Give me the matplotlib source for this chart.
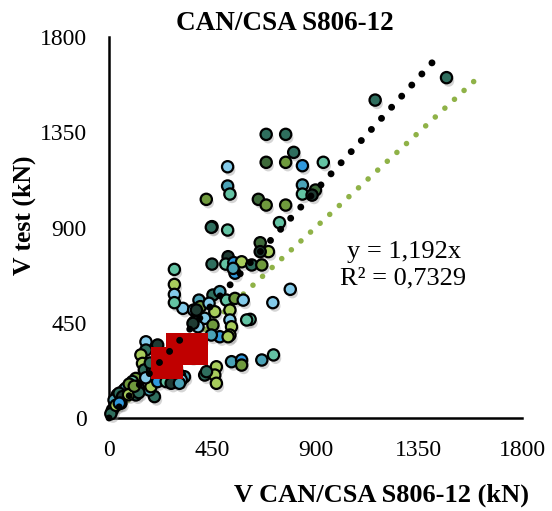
import matplotlib
matplotlib.use("Agg")
import matplotlib.pyplot as plt
import matplotlib.patheffects as pe
import numpy as np

# ---- data ----
palette = {
    "dt": "#2f6e5e",  # dark teal
    "dg": "#3e6a3a",  # dark green
    "ol": "#6f9a3d",  # olive
    "lo": "#a8cd5c",  # light olive
    "lt": "#63c3a3",  # light teal
    "lb": "#84cbea",  # light blue
    "bl": "#2f98dc",  # blue
    "tb": "#4aa2b6",  # teal blue
    "dk": "#1f3b33",  # very dark
}

v_can = [1471, 1160, 685, 770, 805, 685, 770, 843, 934, 517, 517, 527, 843, 843, 900, 885,
         424, 651, 685, 770, 743, 449, 517,
         446, 659, 695, 659, 449, 519, 509, 544, 578, 622, 666, 549, 541, 790, 714, 615,
         453, 483, 392, 322, 369, 398, 436, 512, 549, 585, 527, 461, 527, 534, 417, 453,
         373, 388, 527, 483, 446, 285, 285, 285, 285, 381, 366, 600, 519,
         161, 161, 212, 139, 146, 154, 117, 102, 95, 66, 36, 22, 15, 198, 176, 293, 329,
         307, 417, 468, 461, 468, 425, 534, 578, 578, 666, 717, 293, 315, 244, 73, 44, 59,
         117, 183, 212, 249, 271, 307, 8, 30, 52, 88, 125, 190, 230, 400, 360,
         45, 85, 130, 160, 200, 240, 180, 110]
v_test = [1608, 1502, 1340, 1340, 1255, 1208, 1208, 1192, 1208, 1187, 1096, 1058, 1101, 1058, 1077, 1053,
          1033, 1033, 1006, 1006, 923, 904, 888,
          901, 828, 786, 786, 727, 762, 727, 734, 738, 723, 723, 684, 707, 608, 545, 466,
          581, 597, 557, 518, 510, 526, 542, 557, 565, 557, 510, 502, 463, 431, 471, 439,
          455, 431, 392, 384, 392, 702, 631, 584, 545, 510, 447, 463, 384,
          360, 321, 345, 298, 258, 227, 187, 172, 140, 132, 109, 85, 38, 101, 132, 172, 195,
          203, 203, 242, 203, 164, 219, 266, 274, 250, 274, 298, 250, 180, 210, 140, 117, 101,
          109, 148, 172, 172, 164, 164, 20, 60, 70, 160, 150, 230, 300, 370, 290,
          70, 110, 120, 190, 230, 290, 260, 150]
classes = ["dt", "dt", "dt", "dt", "dt", "dg", "ol", "bl", "lt", "lb", "tb", "lt", "tb", "lt", "dg", "dk",
           "ol", "dg", "ol", "ol", "lt", "dt", "lt",
           "dt", "dg", "lo", "dk", "dt", "dk", "lt", "bl", "lo", "dt", "ol", "bl", "tb", "lb", "lb", "lt",
           "dt", "tb", "tb", "lb", "lb", "ol", "lb", "lt", "ol", "lb", "lo", "lo", "lb", "lo", "lb", "ol",
           "dt", "lb", "lo", "bl", "tb", "lt", "lo", "lb", "lt", "dk", "dk", "lt", "lo",
           "lb", "dt", "dk", "lo", "lo", "dt", "ol", "lt", "bl", "tb", "dt", "tb", "dk", "dt", "tb", "lo", "tb",
           "dk", "dt", "lo", "lo", "lo", "dt", "tb", "bl", "ol", "tb", "lt", "dk", "lb", "bl", "tb", "dt", "dk",
           "dt", "lo", "bl", "lt", "dk", "tb", "dt", "lo", "tb", "ol", "tb", "lb", "lo", "dt", "lb",
           "bl", "lo", "dt", "lb", "tb", "lo", "dt", "ol"]

red_x = [253, 319, 361]
red_y = [260, 327, 327]

slope = 1.192
r2 = 0.7329
trend_x_max = 1430
ref_x_max = 1610

title = "CAN/CSA S806-12"
xlabel = "V CAN/CSA S806-12 (kN)"
ylabel = "V test (kN)"
ticks = [0, 450, 900, 1350, 1800]

# ---- figure ----
plt.rcParams["font.family"] = ["Liberation Serif", "DejaVu Serif"]
fig = plt.figure(figsize=(5.52, 5.11), dpi=100)
ax = fig.add_axes([109 / 552, 93 / 511, 413 / 552, 381 / 511])
ax.set_xlim(0, 1800)
ax.set_ylim(0, 1800)

cols = [palette[c] for c in classes]
sc = ax.scatter(v_can, v_test, s=66, c=cols, edgecolors="black", linewidths=1.6, zorder=3,
                clip_on=False)
sc.set_path_effects([pe.SimplePatchShadow(offset=(1.5, -2.5), shadow_rgbFace="#888888", alpha=0.35),
                     pe.Normal()])

ax.scatter(red_x, red_y, s=530, marker="s", c="#c00000", linewidths=0, zorder=4)

tx = np.array([0, trend_x_max])
ax.plot(tx, slope * tx, color="black", lw=5.0, linestyle=(0, (0.01, 2.15)),
        dash_capstyle="round", zorder=5, clip_on=False)
rx = np.array([0, ref_x_max])
ax.plot(rx, rx, color="#8fb247", lw=4.0, linestyle=(0, (0.01, 2.34)),
        dash_capstyle="round", zorder=2, clip_on=False)

ax.set_xticks(ticks)
ax.set_yticks(ticks)
ax.tick_params(length=0, labelsize=17, pad=16)
for s in ["top", "right"]:
    ax.spines[s].set_visible(False)
for s in ["left", "bottom"]:
    ax.spines[s].set_linewidth(1.8)
    ax.spines[s].set_color("black")

fig.text(285 / 552, 1 - 24 / 511, title, ha="center", va="center", fontsize=19.5, fontweight="bold")
fig.text(382 / 552, 1 - 495 / 511, xlabel, ha="center", va="center", fontsize=19, fontweight="bold")
fig.text(24 / 552, 1 - 215 / 511, ylabel, ha="center", va="center", fontsize=18.5, fontweight="bold",
         rotation=90)

fig.text(404 / 552, 1 - 252 / 511, f"y = {slope:.3f}x".replace(".", ","), ha="center", va="center",
         fontsize=19)
fig.text(403 / 552, 1 - 278 / 511, f"R² = {r2:.4f}".replace(".", ","), ha="center", va="center",
         fontsize=19)

fig.savefig("out.png", dpi=100)
